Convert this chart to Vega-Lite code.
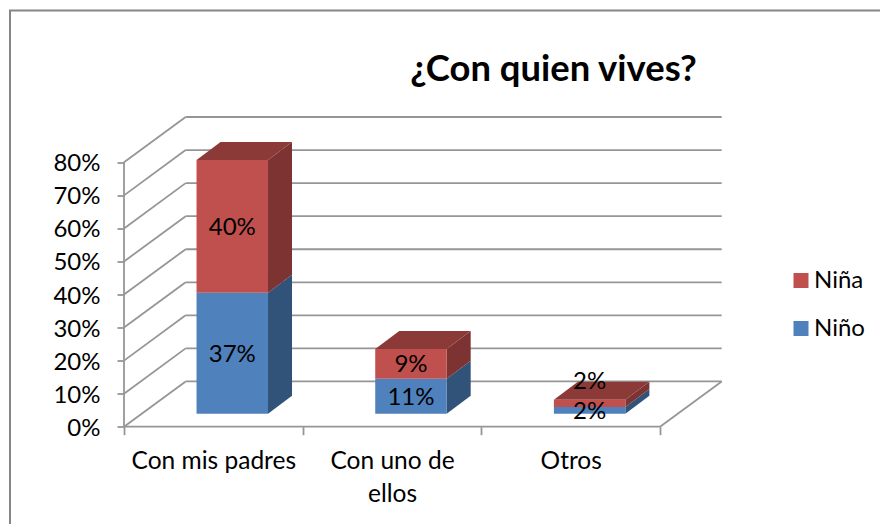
{
"$schema":"https://vega.github.io/schema/vega-lite/v6.json",
"width":875,"height":519,
"autosize":"none",
"padding":{"left":10,"top":10.5,"right":0,"bottom":0},
"background":"white",
"view":{"stroke":"#868686","strokeWidth":2,"fill":"white"},
"title":{"text":"¿Con quien vives?","font":"Lato","fontSize":36.4,"fontWeight":"bold","color":"#000000","anchor":"middle","dx":106,"offset":-78},
"config":{"font":"Lato"},
"datasets":{
"bars":[
{"cat":"Con mis padres","serie":"Niño","value":36.6},
{"cat":"Con mis padres","serie":"Niña","value":40.2},
{"cat":"Con uno de ellos","serie":"Niño","value":10.6},
{"cat":"Con uno de ellos","serie":"Niña","value":9.0},
{"cat":"Otros","serie":"Niño","value":2.0},
{"cat":"Otros","serie":"Niña","value":2.2}],
"grid":[{"v":0},{"v":10},{"v":20},{"v":30},{"v":40},{"v":50},{"v":60},{"v":70},{"v":80}]
},
"transform":[],
"resolve":{"axis":{"x":"independent"}},
"layer":[
{"data":{"name":"grid"},"transform":[{"calculate":"datum.v+13.7","as":"vb"},{"calculate":"0","as":"a"},{"calculate":"0.345","as":"b"},{"calculate":"3.345","as":"c"}],
 "mark":{"type":"rule","color":"#969696","strokeWidth":1.8},
 "encoding":{"x":{"field":"b","type":"quantitative","scale":{"domain":[-0.638,4.259],"nice":false,"zero":false},"axis":{"values":[0,1,2,3],"labels":false,"domain":false,"grid":false,"tickSize":8,"tickWidth":1.8,"tickColor":"#969696","title":null,"offset":-102.8,"orient":"bottom"}},
 "x2":{"field":"c"},
 "y":{"field":"vb","type":"quantitative","scale":{"domain":[-31.1,125.93],"nice":false,"zero":false},"axis":{"values":[0,10,20,30,40,50,60,70,80],"labelExpr":"datum.value+'%'","labelFont":"Lato","labelFontSize":24,"labelColor":"#000000","labelPadding":17,"labelOffset":1.5,"domain":false,"grid":false,"tickSize":7,"tickWidth":1.8,"tickColor":"#969696","title":null,"offset":-114,"orient":"left"}}}},
{"data":{"name":"grid"},"transform":[{"calculate":"datum.v+13.7","as":"vb"},{"calculate":"0","as":"a"},{"calculate":"0.345","as":"b"}],
 "mark":{"type":"rule","color":"#969696","strokeWidth":1.8},
 "encoding":{"x":{"field":"a","type":"quantitative","axis":{"values":[0.5,1.5,2.5],"labelExpr":"datum.value==0.5?'Con mis padres':datum.value==1.5?['Con uno de','ellos']:'Otros'","labelFont":"Lato","labelFontSize":24.5,"labelColor":"#000000","labelPadding":23,"labelLineHeight":33,"labelBaseline":"top","domain":false,"grid":false,"ticks":false,"tickSize":8,"title":null,"offset":-102.8,"orient":"bottom"}},
 "x2":{"field":"b"},"y":{"field":"v","type":"quantitative"},"y2":{"field":"vb"}}},
{"data":{"name":"grid"},"transform":[{"filter":"datum.v==0"},{"calculate":"3","as":"a"},{"calculate":"3.345","as":"b"},{"calculate":"13.7","as":"vb"}],
 "mark":{"type":"rule","color":"#969696","strokeWidth":1.8},
 "encoding":{"x":{"field":"a","type":"quantitative","axis":null},"x2":{"field":"b"},"y":{"field":"v","type":"quantitative"},"y2":{"field":"vb"}}},
{"data":{"name":"grid"},"transform":[{"filter":"datum.v==0"},{"calculate":"0","as":"a"},{"calculate":"3","as":"b"}],
 "mark":{"type":"rule","color":"#969696","strokeWidth":1.8},
 "encoding":{"x":{"field":"a","type":"quantitative","axis":null},"x2":{"field":"b"},"y":{"field":"v","type":"quantitative"}}},
{"data":{"name":"grid"},"transform":[{"filter":"datum.v==0"},{"calculate":"0","as":"a"},{"calculate":"80","as":"t"}],
 "mark":{"type":"rule","color":"#969696","strokeWidth":1.8},
 "encoding":{"x":{"field":"a","type":"quantitative","axis":null},"y":{"field":"v","type":"quantitative"},"y2":{"field":"t"}}},
{"data":{"name":"bars"},
 "transform":[
  {"stack":"value","groupby":["cat"],"sort":[{"field":"serie","order":"descending"}],"as":["y0","y1"]},
  {"calculate":"indexof(['Con mis padres','Con uno de ellos','Otros'],datum.cat)+0.5","as":"pos"},
  {"calculate":"datum.pos-0.094","as":"xl"},{"calculate":"datum.pos+0.306","as":"xr"},
  {"calculate":"datum.pos+0.106","as":"xc"},
  {"calculate":"datum.y0+3.93","as":"yb"},{"calculate":"datum.y1+3.93","as":"yt"},
  {"calculate":"(datum.yb+datum.yt)/2","as":"ym"},
  {"calculate":"format(datum.value,'.0f')+'%'","as":"label"},
  {"calculate":"[0,1]","as":"c"},{"flatten":["c"]},
  {"calculate":"datum.xr+datum.c*0.1343","as":"sx"},
  {"calculate":"datum.yb+datum.c*5.45","as":"sy0"},
  {"calculate":"datum.yt+datum.c*5.45","as":"sy1"},
  {"calculate":"datum.xl+datum.c*0.1343","as":"tx0"}
 ],
 "layer":[
 {"transform":[{"filter":"datum.serie=='Niño'"}],"mark":{"type":"area","color":"#325379","orient":"vertical"},
  "encoding":{"x":{"field":"sx","type":"quantitative","axis":null},"y":{"field":"sy0","type":"quantitative"},"y2":{"field":"sy1"},"detail":{"field":"cat"}}},
 {"transform":[{"filter":"datum.serie=='Niña'"}],"mark":{"type":"area","color":"#7C3331","orient":"vertical"},
  "encoding":{"x":{"field":"sx","type":"quantitative","axis":null},"y":{"field":"sy0","type":"quantitative"},"y2":{"field":"sy1"},"detail":{"field":"cat"}}},
 {"transform":[{"filter":"datum.serie=='Niña'"}],"mark":{"type":"area","color":"#8C3A38","orient":"horizontal"},
  "encoding":{"y":{"field":"sy1","type":"quantitative"},"x":{"field":"tx0","type":"quantitative","axis":null},"x2":{"field":"sx"},"detail":{"field":"cat"}}},
 {"transform":[{"filter":"datum.c==0"}],"mark":{"type":"bar"},
  "encoding":{"x":{"field":"xl","type":"quantitative","axis":null},"x2":{"field":"xr"},"y":{"field":"yb","type":"quantitative"},"y2":{"field":"yt"},
   "color":{"field":"serie","type":"nominal","scale":{"domain":["Niña","Niño"],"range":["#C0504D","#4F81BD"]},
    "legend":{"orient":"none","legendX":779,"legendY":258,"title":null,"symbolType":"square","symbolSize":225,"symbolStrokeWidth":0,"labelFont":"Lato","labelFontSize":24,"labelColor":"#000000","labelOffset":1,"rowPadding":24}}}},
 {"transform":[{"filter":"datum.c==0 && !(datum.cat=='Otros' && datum.serie=='Niña')"}],"mark":{"type":"text","font":"Lato","fontSize":24,"color":"#000000","baseline":"middle","dy":1.5},
  "encoding":{"x":{"field":"xc","type":"quantitative","axis":null},"y":{"field":"ym","type":"quantitative"},"text":{"field":"label"}}},
 {"transform":[{"filter":"datum.c==0 && datum.cat=='Otros' && datum.serie=='Niña'"}],"mark":{"type":"text","font":"Lato","fontSize":24,"color":"#000000","baseline":"middle","dy":-21},
  "encoding":{"x":{"field":"xc","type":"quantitative","axis":null},"y":{"field":"ym","type":"quantitative"},"text":{"field":"label"}}}
 ]}
]}
